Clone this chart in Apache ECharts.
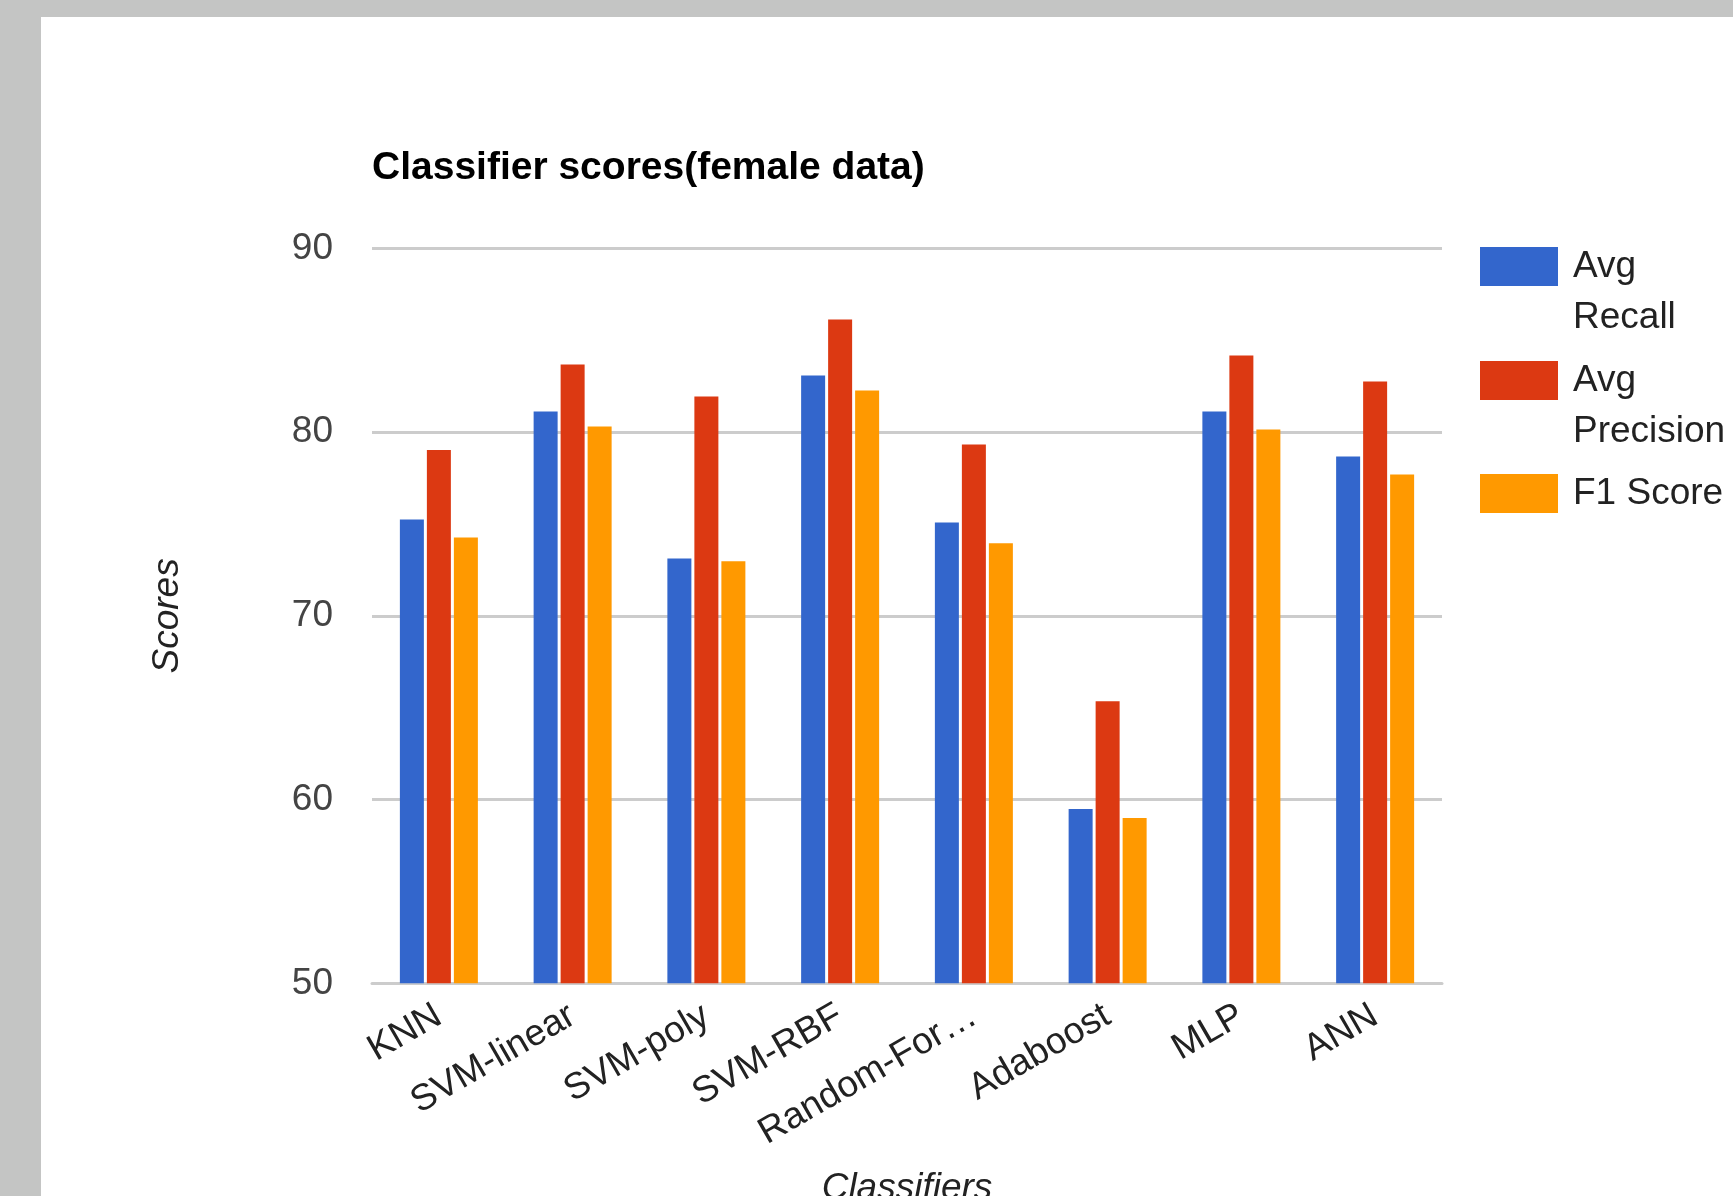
<!DOCTYPE html>
<html>
<head>
<meta charset="utf-8">
<title>Classifier scores(female data)</title>
<script src="https://cdn.jsdelivr.net/npm/echarts@6/dist/echarts.min.js"></script>
<style>
  html, body { margin: 0; padding: 0; background: #c4c5c4; }
  #chart { width: 1733px; height: 1196px; }
</style>
</head>
<body>
<div id="chart"></div>
<script>
// Classifier names along the x axis
const categories = ['KNN', 'SVM-linear', 'SVM-poly', 'SVM-RBF', 'Random-Forest', 'Adaboost', 'MLP', 'ANN'];

// Scores per classifier
const avgRecall    = [75.25, 81.13, 73.13, 83.09, 75.09, 59.49, 81.13, 78.68];
const avgPrecision = [79.03, 83.69, 81.95, 86.14, 79.33, 65.35, 84.18, 82.76];
const f1Score      = [74.27, 80.31, 72.97, 82.27, 73.95, 59.00, 80.15, 77.70];

// Value axis range and step
const yMin = 50;
const yMax = 90;
const yStep = 10;

const FONT = '"Liberation Sans", Arial, sans-serif';
const colors = ['#3366cc', '#dc3912', '#ff9900'];

const chart = echarts.init(document.getElementById('chart'), null, { renderer: 'canvas' });

// One legend block per series; two-word names wrap onto a second line,
// with an empty line above so the swatch lines up with the first word.
function legendFor(name, top, twoLines) {
  return {
    data: [name],
    left: 1480,
    top: top,
    orient: 'vertical',
    padding: 0,
    itemWidth: 78,
    itemHeight: 39,
    icon: 'rect',
    selectedMode: false,
    formatter: (n) => twoLines ? ' \n' + n.replace(' ', '\n') : n,
    textStyle: {
      fontFamily: FONT,
      fontSize: 37,
      color: '#222222',
      lineHeight: 51,
      padding: [0, 0, 0, 10]
    }
  };
}

chart.setOption({
  backgroundColor: '#c4c5c4',
  color: colors,
  animation: false,
  graphic: [{
    type: 'rect',
    z: -10,
    silent: true,
    shape: { x: 41, y: 17, width: 1733 - 41, height: 1196 - 17 },
    style: { fill: '#ffffff' }
  }],
  title: {
    text: 'Classifier scores(female data)',
    left: 372,
    top: 148.5,
    padding: 0,
    textStyle: { fontFamily: FONT, fontSize: 39, fontWeight: 'bold', color: '#000000' }
  },
  legend: [
    legendFor('Avg Recall', 190, true),
    legendFor('Avg Precision', 304, true),
    legendFor('F1 Score', 468, false)
  ],
  grid: {
    left: 372, right: 291, top: 248.5, bottom: 212.7,
    containLabel: false,
    outerBoundsMode: 'none'
  },
  xAxis: {
    type: 'category',
    data: categories,
    name: 'Classifiers',
    nameLocation: 'middle',
    nameGap: 187,
    nameTextStyle: { fontFamily: FONT, fontSize: 37, fontStyle: 'italic', color: '#222222' },
    axisLine: { show: true, lineStyle: { color: '#cccccc', width: 3 } },
    axisTick: { show: false },
    axisLabel: {
      rotate: 30,
      margin: 30,
      interval: 0,
      fontFamily: FONT,
      fontSize: 37,
      color: '#222222',
      width: 250,
      overflow: 'truncate',
      ellipsis: '…'
    }
  },
  yAxis: {
    type: 'value',
    min: yMin,
    max: yMax,
    interval: yStep,
    name: 'Scores',
    nameLocation: 'middle',
    nameGap: 186,
    nameRotate: 90,
    nameTextStyle: { fontFamily: FONT, fontSize: 37, fontStyle: 'italic', color: '#222222' },
    axisLine: { show: false },
    axisTick: { show: false },
    axisLabel: { margin: 39, fontFamily: FONT, fontSize: 37, color: '#444444' },
    splitLine: { lineStyle: { color: '#cccccc', width: 3 } }
  },
  series: [
    { name: 'Avg Recall', type: 'bar', data: avgRecall, barWidth: 24, barGap: '12.5%' },
    { name: 'Avg Precision', type: 'bar', data: avgPrecision, barWidth: 24, barGap: '12.5%' },
    { name: 'F1 Score', type: 'bar', data: f1Score, barWidth: 24, barGap: '12.5%' }
  ]
});
</script>
</body>
</html>
